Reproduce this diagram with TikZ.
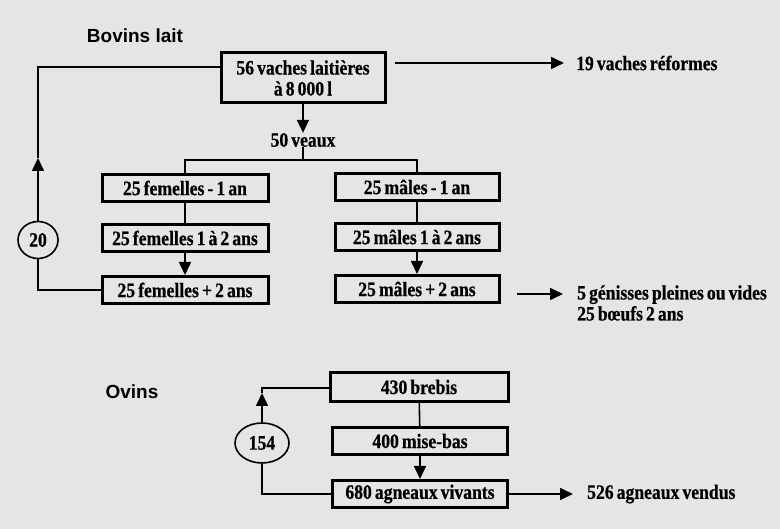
\documentclass[tikz,border=0pt]{standalone}
\usepackage{fontspec}
\setmainfont{Liberation Serif}
\setsansfont{Liberation Sans}
\newfontfamily\boxfont[FakeStretch=0.86,WordSpace=0.7,FakeBold=0.6]{Liberation Serif}
\usetikzlibrary{arrows.meta,shapes.geometric}
\definecolor{bgcol}{gray}{0.9}
\begin{document}
\begin{tikzpicture}[x=1pt,y=-1pt,
  txt/.style={font=\boxfont\bfseries\fontsize{20.5}{21}\selectfont},
  box/.style={draw, line width=3pt, minimum height=27pt, inner sep=0pt, txt},
  lbl/.style={inner sep=0pt, txt},
  ttl/.style={inner sep=0pt, font=\sffamily\bfseries\fontsize{19}{20}\selectfont},
  conn/.style={line width=1.6pt},
  arr/.style={conn, -{Triangle[length=13pt,width=12pt]}},
  rnd/.style={draw, ellipse, line width=1.6pt, inner sep=0pt, txt}
]
\fill[bgcol] (0,0) rectangle (780,529);
\useasboundingbox (0,0) rectangle (780,529);

% ---------- Bovins lait ----------
\node[ttl] (t1) at (135,36) {Bovins lait};
\node[box, minimum width=164pt, minimum height=50pt, align=center] (vl) at (303,78) {56 vaches laitières\\à 8 000 l};
\node[lbl, anchor=west] (ref) at (576,63) {19 vaches réformes};
\node[lbl] (veaux) at (303,140) {50 veaux};

\node[box, minimum width=166pt] (f1) at (185,188) {25 femelles - 1 an};
\node[box, minimum width=166pt] (f2) at (185,238) {25 femelles 1 à 2 ans};
\node[box, minimum width=166pt] (f3) at (185,290) {25 femelles + 2 ans};
\node[box, minimum width=164pt] (m1) at (417,187) {25 mâles - 1 an};
\node[box, minimum width=164pt] (m2) at (417,237) {25 mâles 1 à 2 ans};
\node[box, minimum width=164pt] (m3) at (417,289) {25 mâles + 2 ans};
\node[lbl, anchor=west, align=left] (out) at (577,303) {5 génisses pleines ou vides\\25 bœufs 2 ans};

\node[rnd, minimum width=40pt, minimum height=37pt] (c20) at (38,240) {20};

\draw[arr] (vl) -- (veaux);
\coordinate (split) at (303,160);
\draw[conn] (veaux.south) -- (split);
\draw[conn] (f1.north) |- (split) -| (m1.north);
\draw[conn] (f1) -- (f2);
\draw[arr] (f2) -- (f3);
\draw[conn] (m1) -- (m2);
\draw[arr] (m2) -- (m3);

\path (vl.east |- ref.west) ++(8,0) coordinate (a1);
\draw[arr] (a1) -- ([xshift=-12pt]ref.west);

\coordinate (lt) at (38,67);
\coordinate (tip20) at (38,158);
\draw[conn] (tip20) -- (lt) -- (vl.west |- lt);
\draw[arr] (c20.north) -- (tip20);
\draw[conn] (c20.south) |- (f3.west);

\coordinate (o1) at (517,294);
\coordinate (o2) at (563,294);
\draw[arr] (o1) -- (o2);

% ---------- Ovins ----------
\node[ttl] (t2) at (132,392) {Ovins};
\node[box, minimum width=178pt, minimum height=29pt] (br) at (419,387) {430 brebis};
\node[box, minimum width=175pt] (mb) at (420,441) {400 mise-bas};
\node[box, minimum width=175pt] (ag) at (420,494) {680 agneaux vivants};
\node[lbl, anchor=west] (vend) at (587,494) {526 agneaux vendus};
\node[rnd, minimum width=54pt, minimum height=40pt] (c154) at (262,443) {154};

\draw[conn] (br) -- (mb);
\draw[arr] (mb) -- (ag);
\draw[arr, shorten >=14pt] (ag) -- (vend.west);

\coordinate (lt2) at (262,388);
\coordinate (tip154) at (262,393);
\draw[conn] (tip154) -- (lt2) -- (br.west |- lt2);
\draw[arr] (c154.north) -- (tip154);
\draw[conn] (c154.south) |- (ag.west);
\end{tikzpicture}
\end{document}
